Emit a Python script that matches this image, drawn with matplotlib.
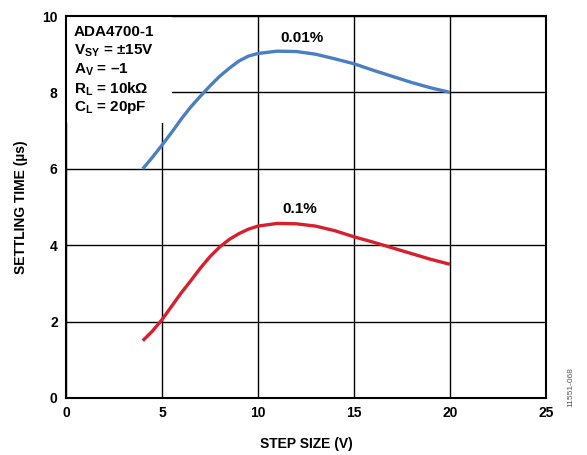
import matplotlib.pyplot as plt

plt.rcParams['font.family'] = ['Liberation Sans', 'DejaVu Sans']
plt.rcParams['mathtext.fontset'] = 'custom'
plt.rcParams['mathtext.bf'] = 'Liberation Sans:bold'
plt.rcParams['mathtext.rm'] = 'Liberation Sans'

# ── DATA ──────────────────────────────────────────────────────────────────────
step_v = [4, 4.5, 5, 5.5, 6, 6.5, 7, 7.5, 8, 8.5, 9, 9.5, 10,
          11, 12, 13, 14, 15, 16, 17, 18, 19, 20]
ts_001 = [6.0, 6.3, 6.62, 6.95, 7.3, 7.62, 7.9, 8.17, 8.42, 8.63, 8.82, 8.95, 9.02,
          9.08, 9.07, 9.0, 8.88, 8.75, 8.58, 8.42, 8.26, 8.12, 8.0]
ts_01 = [1.5, 1.75, 2.05, 2.4, 2.75, 3.07, 3.4, 3.7, 3.95, 4.15, 4.3, 4.42, 4.5,
         4.57, 4.56, 4.5, 4.38, 4.22, 4.08, 3.93, 3.78, 3.63, 3.5]
x_ticks = [0, 5, 10, 15, 20, 25]
y_ticks = [0, 2, 4, 6, 8, 10]
conditions = ['ADA4700-1', r'V$_{\mathbf{SY}}$ = ±15V', r'A$_{\mathbf{V}}$ = –1',
              r'R$_{\mathbf{L}}$ = 10kΩ', r'C$_{\mathbf{L}}$ = 20pF']

# ── PLOT ──────────────────────────────────────────────────────────────────────
fig = plt.figure(figsize=(5.87, 4.55), dpi=100)
ax = fig.add_axes([0.1124, 0.1253, 0.8177, 0.8395])

ax.plot(step_v, ts_001, color='#4a7fc1', lw=2.4, solid_capstyle='butt', zorder=3)
ax.plot(step_v, ts_01, color='#d7202e', lw=2.4, solid_capstyle='butt', zorder=3)

ax.set_xlim(0, 25)
ax.set_ylim(0, 10)
ax.set_xticks(x_ticks)
ax.set_yticks(y_ticks)
ax.grid(True, color='black', lw=1.0)
ax.set_axisbelow(True)
for s in ax.spines.values():
    s.set_linewidth(1.5)
ax.tick_params(length=0, pad=6, labelsize=10)
for lbl in ax.get_xticklabels() + ax.get_yticklabels():
    lbl.set_fontweight('bold')

ax.set_xlabel('STEP SIZE (V)', fontsize=10, fontweight='bold', labelpad=12)
ax.set_ylabel('SETTLING TIME (µs)', fontsize=10, fontweight='bold', labelpad=10)

# white box behind the condition text
ax.add_patch(plt.Rectangle((0, 7.2), 5.5, 2.8, facecolor='white',
                           edgecolor='none', zorder=2))
for i, t in enumerate(conditions):
    ax.text(0.4, 9.58 - i * 0.495, t, fontsize=11, fontweight='bold',
            va='center', ha='left', zorder=4)

ax.text(12.3, 9.42, '0.01%', fontsize=11, fontweight='bold', ha='center', va='center')
ax.text(12.15, 4.95, '0.1%', fontsize=11, fontweight='bold', ha='center', va='center')

fig.text(0.972, 0.15, '11551-068', rotation=90, fontsize=6, color='#555555',
         ha='center', va='center')

fig.savefig('out.png', dpi=100)
